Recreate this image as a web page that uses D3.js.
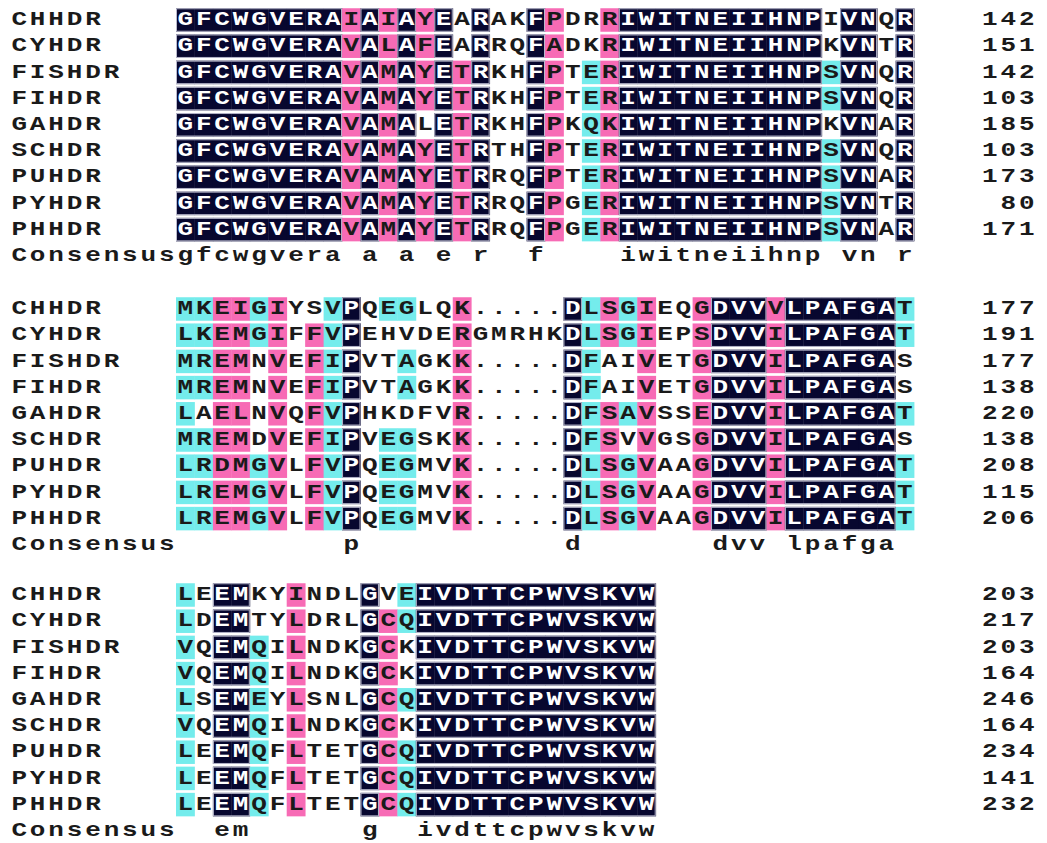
<!DOCTYPE html>
<html>
<head>
<meta charset="utf-8">
<script src="https://cdn.jsdelivr.net/npm/d3@7"></script>
<style>
  body { margin: 0; background: #fff; }
  text { font-family: "Liberation Mono", "DejaVu Sans Mono", monospace; font-weight: bold; }
</style>
</head>
<body>
<svg id="msa" width="1047" height="843"></svg>
<script>
// sequence names (same for every block)
var names = ["CHHDR", "CYHDR", "FISHDR", "FIHDR", "GAHDR", "SCHDR", "PUHDR", "PYHDR", "PHHDR"];

// block 1
var seq1 = [
  "GFCWGVERAIAIAYEARAKFPDRRIWITNEIIHNPIVNQR",
  "GFCWGVERAVALAFEARRQFADKRIWITNEIIHNPKVNTR",
  "GFCWGVERAVAMAYETRKHFPTERIWITNEIIHNPSVNQR",
  "GFCWGVERAVAMAYETRKHFPTERIWITNEIIHNPSVNQR",
  "GFCWGVERAVAMALETRKHFPKQKIWITNEIIHNPKVNAR",
  "GFCWGVERAVAMAYETRTHFPTERIWITNEIIHNPSVNQR",
  "GFCWGVERAVAMAYETRRQFPTERIWITNEIIHNPSVNAR",
  "GFCWGVERAVAMAYETRRQFPGERIWITNEIIHNPSVNTR",
  "GFCWGVERAVAMAYETRRQFPGERIWITNEIIHNPSVNAR"
];
// shading: k = identical (dark), p = pink, c = cyan, - = none
var shade1 = [
  "kkkkkkkkkpkpkpk-k--kp--pkkkkkkkkkkk-kk-k",
  "kkkkkkkkkpkpkpk-k--kp--pkkkkkkkkkkk-kk-k",
  "kkkkkkkkkpkpkpkpk--kp-cpkkkkkkkkkkkckk-k",
  "kkkkkkkkkpkpkpkpk--kp-cpkkkkkkkkkkkckk-k",
  "kkkkkkkkkpkpk-kpk--kp-cpkkkkkkkkkkk-kk-k",
  "kkkkkkkkkpkpkpkpk--kp-cpkkkkkkkkkkkckk-k",
  "kkkkkkkkkpkpkpkpk--kp-cpkkkkkkkkkkkckk-k",
  "kkkkkkkkkpkpkpkpk--kp-cpkkkkkkkkkkkckk-k",
  "kkkkkkkkkpkpkpkpk--kp-cpkkkkkkkkkkkckk-k"
];
var cons1 = "gfcwgvera a a e r  f    iwitneiihnp vn r";
var ends1 = [142, 151, 142, 103, 185, 103, 173, 80, 171];

// block 2
var seq2 = [
  "MKEIGIYSVPQEGLQK.....DLSGIEQGDVVVLPAFGAT",
  "LKEMGIFFVPEHVDERGMRHKDLSGIEPSDVVILPAFGAT",
  "MREMNVEFIPVTAGKK.....DFAIVETGDVVILPAFGAS",
  "MREMNVEFIPVTAGKK.....DFAIVETGDVVILPAFGAS",
  "LAELNVQFVPHKDFVR.....DFSAVSSEDVVILPAFGAT",
  "MREMDVEFIPVEGSKK.....DFSVVGSGDVVILPAFGAS",
  "LRDMGVLFVPQEGMVK.....DLSGVAAGDVVILPAFGAT",
  "LREMGVLFVPQEGMVK.....DLSGVAAGDVVILPAFGAT",
  "LREMGVLFVPQEGMVK.....DLSGVAAGDVVILPAFGAT"
];
var shade2 = [
  "ccppcp--ck-cc--p-----kcpcp--pkkkpkkkkkkc",
  "ccppcp-pck-----p-----kcpcp--pkkkpkkkkkkc",
  "ccpp-p-pck--c--p-----kc--p--pkkkpkkkkkk-",
  "ccpp-p-pck--c--p-----kc--p--pkkkpkkkkkk-",
  "c-pp-p-pck-----p-----kcpcp--pkkkpkkkkkkc",
  "ccpp-p-pck-cc--p-----kcp-p--pkkkpkkkkkk-",
  "ccppcp-pck-cc--p-----kcpcp--pkkkpkkkkkkc",
  "ccppcp-pck-cc--p-----kcpcp--pkkkpkkkkkkc",
  "ccppcp-pck-cc--p-----kcpcp--pkkkpkkkkkkc"
];
var cons2 = "         p           d       dvv lpafga ";
var ends2 = [177, 191, 177, 138, 220, 138, 208, 115, 206];

// block 3
var seq3 = [
  "LEEMKYINDLGVEIVDTTCPWVSKVW",
  "LDEMTYLDRLGCQIVDTTCPWVSKVW",
  "VQEMQILNDKGCKIVDTTCPWVSKVW",
  "VQEMQILNDKGCKIVDTTCPWVSKVW",
  "LSEMEYLSNLGCQIVDTTCPWVSKVW",
  "VQEMQILNDKGCKIVDTTCPWVSKVW",
  "LEEMQFLTETGCQIVDTTCPWVSKVW",
  "LEEMQFLTETGCQIVDTTCPWVSKVW",
  "LEEMQFLTETGCQIVDTTCPWVSKVW"
];
var shade3 = [
  "c-kk--p---k-ckkkkkkkkkkkkk",
  "c-kk--p---kpckkkkkkkkkkkkk",
  "c-kkc-p---kp-kkkkkkkkkkkkk",
  "c-kkc-p---kp-kkkkkkkkkkkkk",
  "c-kkc-p---kpckkkkkkkkkkkkk",
  "c-kkc-p---kp-kkkkkkkkkkkkk",
  "c-kkc-p---kpckkkkkkkkkkkkk",
  "c-kkc-p---kpckkkkkkkkkkkkk",
  "c-kkc-p---kpckkkkkkkkkkkkk"
];
var cons3 = "  em      g  ivdttcpwvskvw";
var ends3 = [203, 217, 203, 164, 246, 164, 234, 141, 232];

var blocks = [
  { seq: seq1, shade: shade1, cons: cons1, ends: ends1, top: 20 },
  { seq: seq2, shade: shade2, cons: cons2, ends: ends2, top: 309 },
  { seq: seq3, shade: shade3, cons: cons3, ends: ends3, top: 595 }
];

var fills = { k: "#07072f", p: "#f76bb5", c: "#74ecec" };

var cellW = 18.45, rowH = 26.2, boxH = 23.5;
var numRight = 1036;

// column index -> x of the cell's left edge
var x = d3.scaleLinear().domain([0, 1]).range([176, 176 + cellW]);
// row index -> offset of row centre inside a block
var y = d3.scaleLinear().domain([0, 1]).range([0, rowH]);

var svg = d3.select("#msa");

function drawChars(g, str, col0, cy, colorFn) {
  g.selectAll(null)
    .data(str.split("").map(function(ch, i) { return { ch: ch, i: i }; })
      .filter(function(d) { return d.ch !== " "; }))
    .enter().append("text")
    .attr("transform", function(d) {
      return "translate(" + (x(col0 + d.i) + cellW / 2) + "," + cy + ") scale(1.3,1)";
    })
    .attr("text-anchor", "middle")
    .attr("dominant-baseline", "central")
    .attr("font-size", 20)
    .attr("fill", colorFn)
    .text(function(d) { return d.ch; });
}

blocks.forEach(function(b) {
  var g = svg.append("g");

  b.seq.forEach(function(s, r) {
    var cy = b.top + y(r);
    var sh = b.shade[r];
    var row = g.append("g");

    // coloured cells
    row.selectAll("rect.cell")
      .data(sh.split("").map(function(t, i) { return { t: t, i: i }; })
        .filter(function(d) { return d.t !== "-"; }))
      .enter().append("rect")
      .attr("class", "cell")
      .attr("x", function(d) { return x(d.i); })
      .attr("y", cy - boxH / 2)
      .attr("width", cellW + 0.4)
      .attr("height", boxH)
      .attr("fill", function(d) { return fills[d.t]; });

    // light outline around runs of identical residues
    var runs = [], start = -1;
    for (var i = 0; i <= sh.length; i++) {
      if (sh[i] === "k" && start < 0) start = i;
      if (sh[i] !== "k" && start >= 0) { runs.push([start, i]); start = -1; }
    }
    row.selectAll("rect.run")
      .data(runs)
      .enter().append("rect")
      .attr("class", "run")
      .attr("x", function(d) { return x(d[0]) + 0.5; })
      .attr("y", cy - boxH / 2 + 0.5)
      .attr("width", function(d) { return x(d[1]) - x(d[0]) - 1; })
      .attr("height", boxH - 1)
      .attr("fill", "none")
      .attr("stroke", "#b8b8cc")
      .attr("stroke-width", 1);

    // name
    drawChars(row, names[r], -9, cy, function() { return "#1a1a1a"; });
    // residues
    drawChars(row, s, 0, cy, function(d) { return sh[d.i] === "k" ? "#ffffff" : "#1a1a1a"; });
    // end position, right aligned
    var num = String(b.ends[r]);
    var col0 = (numRight - 176) / cellW - num.length;
    drawChars(row, num, col0, cy, function() { return "#1a1a1a"; });
  });

  // consensus line
  var cy = b.top + y(9);
  drawChars(g, "Consensus", -9, cy, function() { return "#1a1a1a"; });
  drawChars(g, b.cons, 0, cy, function() { return "#1a1a1a"; });
});
</script>
</body>
</html>
